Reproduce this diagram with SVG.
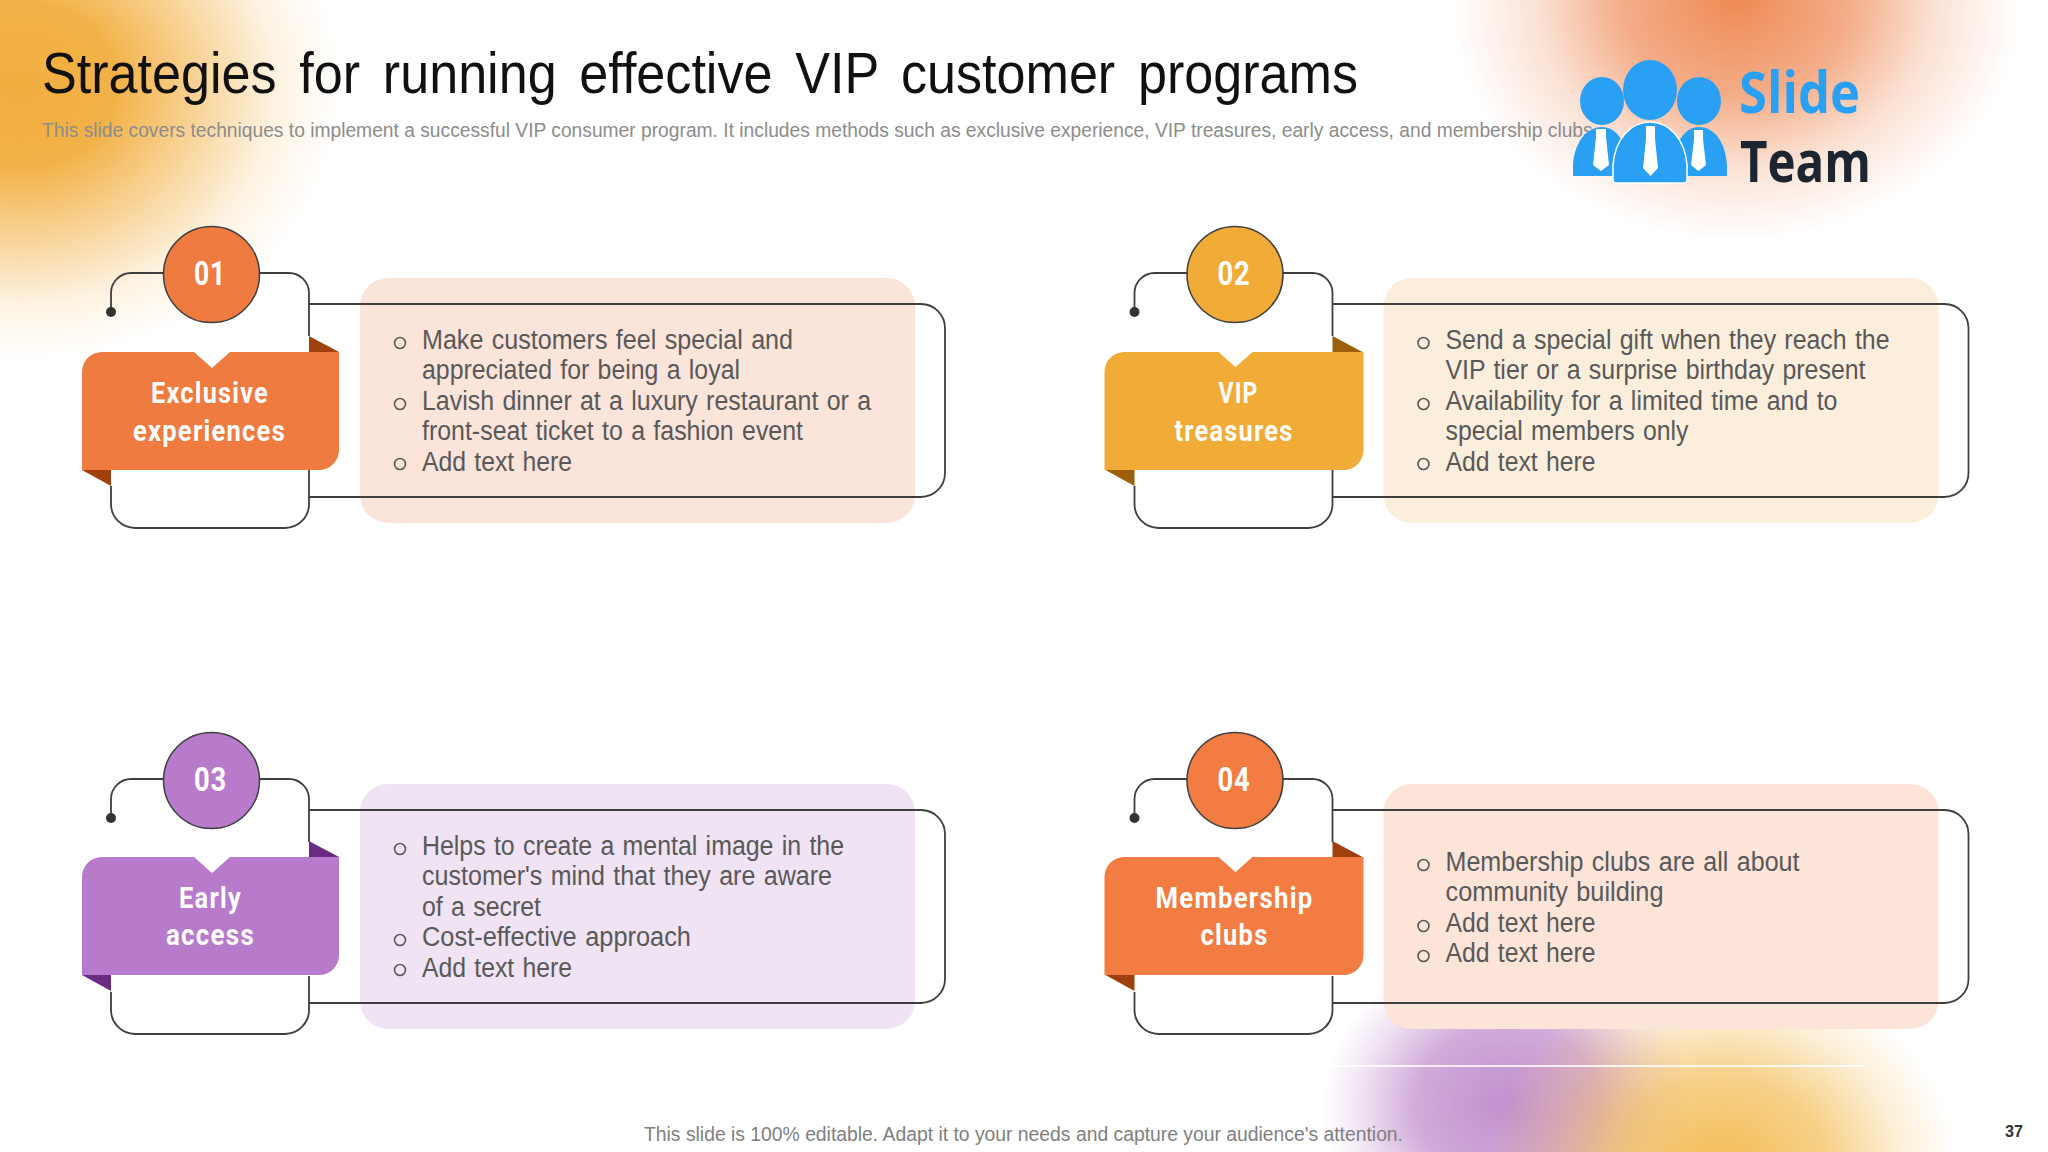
<svg xmlns="http://www.w3.org/2000/svg" width="2048" height="1152" viewBox="0 0 2048 1152">
<style>
.title{font:57px "Liberation Sans",Arial,sans-serif;fill:#111;word-spacing:9px}
.sub{font:20px "Liberation Sans",Arial,sans-serif;fill:#8c8c8c}
.foot{font:20px "Liberation Sans",Arial,sans-serif;fill:#7f7f7f}
.pg{font:bold 17px "Liberation Sans",Arial,sans-serif;fill:#333}
.body{font:27px "Liberation Sans",Arial,sans-serif;fill:#595959;word-spacing:1.5px}
.lab{font:bold 30px Roboto,"Liberation Sans",sans-serif;fill:#fff;letter-spacing:1.5px}
.num{font:bold 34px Roboto,"Liberation Sans",sans-serif;fill:#fff;letter-spacing:1px}
.bul{fill:none;stroke:#595959;stroke-width:1.6}
.ln{fill:none;stroke:#3f3f3f;stroke-width:1.8}
.logo{fill:#2AA0F5}
.tie{fill:#fff}
.lt{font:bold 58px "Open Sans","Noto Sans",sans-serif}
</style>
<defs>
<radialGradient id="gO"><stop offset="0" stop-color="#F2AE3F"/><stop offset=".3" stop-color="#F2AE3F" stop-opacity=".95"/><stop offset=".55" stop-color="#F2AE3F" stop-opacity=".55"/><stop offset=".8" stop-color="#F2AE3F" stop-opacity=".15"/><stop offset="1" stop-color="#F2AE3F" stop-opacity="0"/></radialGradient>
<radialGradient id="gR"><stop offset="0" stop-color="#EF8A55"/><stop offset=".4" stop-color="#EF8A55" stop-opacity=".7"/><stop offset=".7" stop-color="#EF8A55" stop-opacity=".25"/><stop offset="1" stop-color="#EF8A55" stop-opacity="0"/></radialGradient>
<radialGradient id="gP"><stop offset="0" stop-color="#C28FCE"/><stop offset=".5" stop-color="#C28FCE" stop-opacity=".75"/><stop offset=".8" stop-color="#C28FCE" stop-opacity=".25"/><stop offset="1" stop-color="#C28FCE" stop-opacity="0"/></radialGradient>
<radialGradient id="gY"><stop offset="0" stop-color="#F3BC55"/><stop offset=".45" stop-color="#F3BC55" stop-opacity=".7"/><stop offset=".75" stop-color="#F3BC55" stop-opacity=".25"/><stop offset="1" stop-color="#F3BC55" stop-opacity="0"/></radialGradient>
<marker id="dot" markerUnits="userSpaceOnUse" markerWidth="12" markerHeight="12" refX="6" refY="6"><circle cx="6" cy="6" r="5" fill="#333"/></marker>
<path id="lbl" d="M102 352H194L212 368L230 352H339V450A20 20 0 0 1 319 470H82V372A20 20 0 0 1 102 352Z"/>
<path id="fold" d="M309 336L339 352H309ZM82 470L111 486V470Z"/>
<path id="pnl" d="M388 278H887A28 28 0 0 1 915 306V495A28 28 0 0 1 887 523H388A28 28 0 0 1 360 495V306A28 28 0 0 1 388 278Z"/>
<g id="conn"><path marker-start="url(#dot)" d="M111 312V293A20 20 0 0 1 131 273H164"/><path d="M259 273H289A20 20 0 0 1 309 293V336M309 304H921A24 24 0 0 1 945 328V473A24 24 0 0 1 921 497H309M309 470V504A24 24 0 0 1 285 528H135A24 24 0 0 1 111 504V486"/></g>
</defs>
<rect width="2048" height="1152" fill="#fff"/>
<g id="background">
<ellipse cx="20" cy="85" rx="320" ry="275" fill="url(#gO)"/>
<ellipse cx="1736" cy="0" rx="285" ry="240" fill="url(#gR)"/>
<ellipse cx="1508" cy="1105" rx="185" ry="160" fill="url(#gP)"/>
<ellipse cx="1722" cy="1170" rx="235" ry="205" fill="url(#gY)"/>
<rect x="1325" y="1065" width="540" height="2" fill="#fff" opacity=".8"/>
</g>
<g id="header">
<text class="title" x="42" y="93" textLength="1316" lengthAdjust="spacingAndGlyphs">Strategies for running effective VIP customer programs</text>
<text class="sub" x="42" y="137" textLength="1556" lengthAdjust="spacingAndGlyphs">This slide covers techniques to implement a successful VIP consumer program. It includes methods such as exclusive experience, VIP treasures, early access, and membership clubs.</text>
</g>
<g id="logo">
<g class="logo">
<ellipse cx="1602" cy="101" rx="22" ry="24"/><ellipse cx="1699" cy="101" rx="22" ry="24"/>
<path d="M1573 176V165C1574 145 1585 127 1602 127C1617 127 1630 145 1631 176ZM1671 176C1672 145 1684 127 1699 127C1716 127 1726 145 1727 165V176Z"/>
<path d="M1613 180V165C1615 140 1630 122 1650 122C1670 122 1685 140 1687 165V180Q1687 183 1684 183H1616Q1613 183 1613 180Z" stroke="#fff" stroke-width="1.5"/>
<ellipse cx="1650" cy="90" rx="27" ry="30"/>
</g>
<path class="tie" d="M1596 129H1606V137L1609 165L1601 171L1593 165L1596 137ZM1646 126H1655V139L1658 168L1650.500 176L1643 168L1646 139ZM1694 130H1703V139L1706 165L1698.500 171L1691 165L1694 139Z"/>
<text class="lt" x="1739" y="113" fill="#2AA0F5" textLength="121" lengthAdjust="spacingAndGlyphs">Slide</text>
<text class="lt" x="1740" y="182" fill="#1C2530" textLength="131" lengthAdjust="spacingAndGlyphs">Team</text>
</g>

<g id="node-01">
<use href="#pnl" fill="#FBE4DA"/><use href="#fold" fill="#A0410D"/><use href="#lbl" fill="#EF7B41"/>
<circle cx="211.500" cy="274.500" r="48" fill="#EF7B41" stroke="#3f3f3f" stroke-width="1.5"/>
<text class="num" x="194" y="285" textLength="32" lengthAdjust="spacingAndGlyphs">01</text>
<text class="lab" x="151" y="403" textLength="118" lengthAdjust="spacingAndGlyphs">Exclusive</text>
<text class="lab" x="133" y="441" textLength="153" lengthAdjust="spacingAndGlyphs">experiences</text>
<circle class="bul" cx="400" cy="343" r="5.500"/><circle class="bul" cx="400" cy="404" r="5.500"/><circle class="bul" cx="400" cy="464" r="5.500"/>
<text class="body" x="422" y="349" textLength="371" lengthAdjust="spacingAndGlyphs">Make customers feel special and</text>
<text class="body" x="422" y="379" textLength="318" lengthAdjust="spacingAndGlyphs">appreciated for being a loyal</text>
<text class="body" x="422" y="410" textLength="449" lengthAdjust="spacingAndGlyphs">Lavish dinner at a luxury restaurant or a</text>
<text class="body" x="422" y="440" textLength="381" lengthAdjust="spacingAndGlyphs">front-seat ticket to a fashion event</text>
<text class="body" x="422" y="471" textLength="150" lengthAdjust="spacingAndGlyphs">Add text here</text>
</g>

<g id="node-02" transform="translate(1023.500 0)">
<use href="#pnl" fill="#FCEEDC"/><use href="#fold" fill="#9C5F0A"/><use href="#lbl" fill="#F1AB37" transform="translate(-1 0)"/><use href="#lbl" fill="#F1AB37" transform="translate(1 0)"/>
<circle cx="211.500" cy="274.500" r="48" fill="#F1AB37" stroke="#3f3f3f" stroke-width="1.5"/>
<text class="num" x="194" y="285" textLength="33" lengthAdjust="spacingAndGlyphs">02</text>
<text class="lab" x="195" y="403" textLength="40" lengthAdjust="spacingAndGlyphs">VIP</text>
<text class="lab" x="151" y="441" textLength="119" lengthAdjust="spacingAndGlyphs">treasures</text>
<circle class="bul" cx="400" cy="343" r="5.500"/><circle class="bul" cx="400" cy="404" r="5.500"/><circle class="bul" cx="400" cy="464" r="5.500"/>
<text class="body" x="422" y="349" textLength="444" lengthAdjust="spacingAndGlyphs">Send a special gift when they reach the</text>
<text class="body" x="422" y="379" textLength="420" lengthAdjust="spacingAndGlyphs">VIP tier or a surprise birthday present</text>
<text class="body" x="422" y="410" textLength="392" lengthAdjust="spacingAndGlyphs">Availability for a limited time and to</text>
<text class="body" x="422" y="440" textLength="243" lengthAdjust="spacingAndGlyphs">special members only</text>
<text class="body" x="422" y="471" textLength="150" lengthAdjust="spacingAndGlyphs">Add text here</text>
</g>

<g id="node-03" transform="translate(0 506)">
<use href="#pnl" fill="#F0E3F4"/><use href="#fold" fill="#6A2C82" transform="translate(0 -1)"/><use href="#lbl" fill="#B87ACB" transform="translate(0 -1)"/>
<circle cx="211.500" cy="274.500" r="48" fill="#B87ACB" stroke="#3f3f3f" stroke-width="1.5"/>
<text class="num" x="194" y="285" textLength="33" lengthAdjust="spacingAndGlyphs">03</text>
<text class="lab" x="179" y="402" textLength="63" lengthAdjust="spacingAndGlyphs">Early</text>
<text class="lab" x="166" y="439" textLength="89" lengthAdjust="spacingAndGlyphs">access</text>
<circle class="bul" cx="400" cy="343" r="5.500"/><circle class="bul" cx="400" cy="434" r="5.500"/><circle class="bul" cx="400" cy="464" r="5.500"/>
<text class="body" x="422" y="349" textLength="422" lengthAdjust="spacingAndGlyphs">Helps to create a mental image in the</text>
<text class="body" x="422" y="379" textLength="410" lengthAdjust="spacingAndGlyphs">customer's mind that they are aware</text>
<text class="body" x="422" y="410" textLength="119" lengthAdjust="spacingAndGlyphs">of a secret</text>
<text class="body" x="422" y="440" textLength="269" lengthAdjust="spacingAndGlyphs">Cost-effective approach</text>
<text class="body" x="422" y="471" textLength="150" lengthAdjust="spacingAndGlyphs">Add text here</text>
</g>

<g id="node-04" transform="translate(1023.500 506)">
<use href="#pnl" fill="#FCE4D9"/><use href="#fold" fill="#A0410D" transform="translate(0 -1)"/><use href="#lbl" fill="#F27C41" transform="translate(-1 -1)"/><use href="#lbl" fill="#F27C41" transform="translate(1 -1)"/>
<circle cx="211.500" cy="274.500" r="48" fill="#F27C41" stroke="#3f3f3f" stroke-width="1.5"/>
<text class="num" x="194" y="285" textLength="33" lengthAdjust="spacingAndGlyphs">04</text>
<text class="lab" x="132" y="402" textLength="158" lengthAdjust="spacingAndGlyphs">Membership</text>
<text class="lab" x="177" y="439" textLength="68" lengthAdjust="spacingAndGlyphs">clubs</text>
<circle class="bul" cx="400" cy="359" r="5.500"/><circle class="bul" cx="400" cy="420" r="5.500"/><circle class="bul" cx="400" cy="450" r="5.500"/>
<text class="body" x="422" y="365" textLength="354" lengthAdjust="spacingAndGlyphs">Membership clubs are all about</text>
<text class="body" x="422" y="395" textLength="218" lengthAdjust="spacingAndGlyphs">community building</text>
<text class="body" x="422" y="426" textLength="150" lengthAdjust="spacingAndGlyphs">Add text here</text>
<text class="body" x="422" y="456" textLength="150" lengthAdjust="spacingAndGlyphs">Add text here</text>
</g>

<g id="connectors" class="ln">
<use id="c1" href="#conn"/>
<use id="c2" href="#conn" transform="translate(1023.500 0)"/>
<use id="c3" href="#conn" transform="translate(0 506)"/>
<use id="c4" href="#conn" transform="translate(1023.500 506)"/>
</g>

<g id="footer">
<text class="foot" x="644" y="1141" textLength="759" lengthAdjust="spacingAndGlyphs">This slide is 100% editable. Adapt it to your needs and capture your audience's attention.</text>
<text class="pg" x="2005" y="1137" textLength="18" lengthAdjust="spacingAndGlyphs">37</text>
</g>
</svg>
